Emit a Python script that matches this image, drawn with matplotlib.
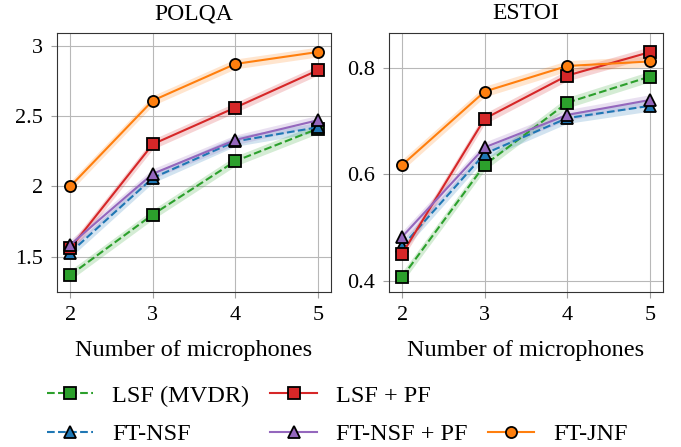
import matplotlib.pyplot as plt
from matplotlib.lines import Line2D
import numpy as np

plt.rcParams['font.family'] = ['Liberation Serif', 'DejaVu Serif']
plt.rcParams['font.size'] = 14

mics = [2, 3, 4, 5]
labels = ['LSF (MVDR)', 'FT-NSF', 'LSF + PF', 'FT-NSF + PF', 'FT-JNF']

# POLQA means
polqa_lsf = [1.37, 1.80, 2.18, 2.41]
polqa_ftnsf = [1.53, 2.06, 2.32, 2.42]
polqa_lsf_pf = [1.56, 2.30, 2.56, 2.825]
polqa_ftnsf_pf = [1.585, 2.09, 2.33, 2.47]
polqa_ftjnf = [2.00, 2.61, 2.87, 2.955]
polqa_ci = [0.035, 0.035, 0.035, 0.035]

# ESTOI means
estoi_lsf = [0.407, 0.618, 0.735, 0.784]
estoi_ftnsf = [0.465, 0.639, 0.706, 0.729]
estoi_lsf_pf = [0.451, 0.705, 0.786, 0.830]
estoi_ftnsf_pf = [0.483, 0.651, 0.712, 0.740]
estoi_ftjnf = [0.618, 0.756, 0.804, 0.8125]
estoi_ci = [0.010, 0.010, 0.010, 0.010]

styles = {
    'LSF (MVDR)': dict(color='#2ca02c', ls='--', marker='s'),
    'FT-NSF': dict(color='#1f77b4', ls='--', marker='^'),
    'LSF + PF': dict(color='#d62728', ls='-', marker='s'),
    'FT-NSF + PF': dict(color='#9467bd', ls='-', marker='^'),
    'FT-JNF': dict(color='#ff7f0e', ls='-', marker='o'),
}

polqa = dict(zip(labels, [polqa_lsf, polqa_ftnsf, polqa_lsf_pf, polqa_ftnsf_pf, polqa_ftjnf]))
estoi = dict(zip(labels, [estoi_lsf, estoi_ftnsf, estoi_lsf_pf, estoi_ftnsf_pf, estoi_ftjnf]))

fig = plt.figure(figsize=(6.81, 4.47), dpi=100)
W, H = 681, 447
ax1 = fig.add_axes([57 / W, 1 - 292 / H, 274 / W, 259 / H])
ax2 = fig.add_axes([389 / W, 1 - 292 / H, 274 / W, 259 / H])

def draw(ax, data, ci):
    handles = {}
    for name in labels:
        st = styles[name]
        y = np.array(data[name])
        c = np.array(ci)
        ax.fill_between(mics, y - c, y + c, color=st['color'], alpha=0.2, lw=0)
        h, = ax.plot(mics, y, color=st['color'], ls=st['ls'], lw=1.5,
                     marker=st['marker'], markersize=8, markerfacecolor=st['color'],
                     markeredgecolor='black', markeredgewidth=1.3)
        handles[name] = h
    ax.grid(True, color='#b8b8b8', lw=0.8)
    ax.set_axisbelow(True)
    ax.set_xticks(mics)
    ax.set_xlim(1.84, 5.16)
    ax.tick_params(labelsize=16, color='#a0a0a0', length=4, pad=6)
    ax.set_xlabel('Number of microphones', fontsize=17.5, labelpad=11)
    for sp in ax.spines.values():
        sp.set_color('#333333')
    return handles

hd = draw(ax1, polqa, polqa_ci)
draw(ax2, estoi, estoi_ci)

ax1.set_title('POLQA', fontsize=17, pad=10)
ax1.set_ylim(1.25, 3.09)
ax1.set_yticks([1.5, 2, 2.5, 3])
ax1.set_yticklabels(['1.5', '2', '2.5', '3'])

ax2.set_title('ESTOI', fontsize=17, pad=10)
ax2.set_ylim(0.379, 0.866)
ax2.set_yticks([0.4, 0.6, 0.8])

blank = Line2D([], [], color='none')
order = [hd['LSF (MVDR)'], hd['FT-NSF'], hd['LSF + PF'], hd['FT-NSF + PF'], blank, hd['FT-JNF']]
names = ['LSF (MVDR)', 'FT-NSF', 'LSF + PF', 'FT-NSF + PF', '', 'FT-JNF']
fig.legend(order, names, ncol=3, frameon=False, loc='center left',
           bbox_to_anchor=(47 / W, 1 - 415 / H), borderpad=0, borderaxespad=0,
           handlelength=1.9, handletextpad=0.78, columnspacing=0.87,
           labelspacing=0.66, fontsize=17.5)

fig.savefig('out.png', dpi=100)
